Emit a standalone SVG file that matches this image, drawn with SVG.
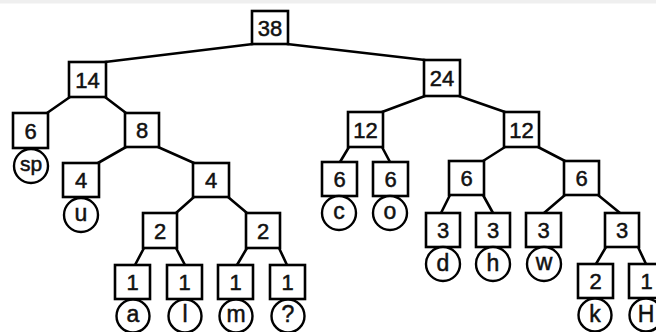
<svg xmlns="http://www.w3.org/2000/svg" width="656" height="332" viewBox="0 0 656 332">
  <style>
    .box { fill: #fff; stroke: #000; stroke-width: 2.6; }
    .leaf { fill: #fff; stroke: #000; stroke-width: 2.4; }
    .edge { stroke: #000; stroke-width: 2.6; fill: none; stroke-linecap: round; }
    .w { font-family: "Liberation Sans", Arial, sans-serif; font-size: 22px; fill: #111; stroke: #111; stroke-width: 0.5; text-anchor: middle; dominant-baseline: central; }
    .c { font-family: "Liberation Sans", Arial, sans-serif; font-size: 23px; fill: #111; stroke: #111; stroke-width: 0.5; text-anchor: middle; dominant-baseline: central; }
  </style>
  <rect x="0" y="0" width="656" height="332" fill="#fff"/>
  <rect x="0" y="0" width="656" height="3.5" fill="#efefef"/>

  <!-- connectors -->
  <g id="edges" class="edge">
    <path d="M253,44 L105,62"/>
    <path d="M287,44 L425,60"/>
    <path d="M70,97 L47,113"/>
    <path d="M105,97 L126,113"/>
    <path d="M126,147 L98,163"/>
    <path d="M158,147 L194,163"/>
    <path d="M194,197 L176,213"/>
    <path d="M228,197 L247,213"/>
    <path d="M144,248 L135,265"/>
    <path d="M176,248 L185,265"/>
    <path d="M247,248 L237,265"/>
    <path d="M279,248 L287,265"/>
    <path d="M425,96 L382,112"/>
    <path d="M459,96 L505,112"/>
    <path d="M349,147 L340,162"/>
    <path d="M382,147 L390,162"/>
    <path d="M505,147 L483,161"/>
    <path d="M538,147 L565,161"/>
    <path d="M450,195 L441,213"/>
    <path d="M483,195 L493,213"/>
    <path d="M565,195 L544,213"/>
    <path d="M598,195 L620,213"/>
    <path d="M606,247 L596,264"/>
    <path d="M638,247 L646,264"/>
  </g>

  <!-- internal nodes -->
  <g id="n38"><rect class="box" x="252" y="11" width="36" height="33"/><text class="w" x="270" y="28">38</text></g>
  <g id="n14"><rect class="box" x="69" y="62" width="37" height="35"/><text class="w" x="87.5" y="80">14</text></g>
  <g id="n24"><rect class="box" x="424" y="60" width="36" height="36"/><text class="w" x="442" y="78.5">24</text></g>
  <g id="n8"><rect class="box" x="125" y="113" width="34" height="34"/><text class="w" x="142" y="130.5">8</text></g>
  <g id="n4"><rect class="box" x="193" y="163" width="36" height="34"/><text class="w" x="211" y="180.5">4</text></g>
  <g id="n2a"><rect class="box" x="143" y="213" width="34" height="35"/><text class="w" x="160" y="231">2</text></g>
  <g id="n2b"><rect class="box" x="246" y="213" width="34" height="35"/><text class="w" x="263" y="231">2</text></g>
  <g id="n12a"><rect class="box" x="348" y="112" width="35" height="35"/><text class="w" x="365.5" y="130">12</text></g>
  <g id="n12b"><rect class="box" x="504" y="112" width="35" height="35"/><text class="w" x="521.5" y="130">12</text></g>
  <g id="n6dh"><rect class="box" x="449" y="161" width="35" height="34"/><text class="w" x="466.5" y="178.5">6</text></g>
  <g id="n6wk"><rect class="box" x="564" y="161" width="35" height="34"/><text class="w" x="581.5" y="178.5">6</text></g>
  <g id="n3kh"><rect class="box" x="605" y="213" width="34" height="34"/><text class="w" x="622" y="230.5">3</text></g>

  <!-- leaves: weight box with symbol circle -->
  <g id="leaf-sp"><rect class="box" x="13" y="113" width="35" height="35"/><text class="w" x="30.5" y="131">6</text><circle class="leaf" cx="31" cy="166" r="17"/><text class="c" x="31" y="163" style="font-size:21px">sp</text></g>
  <g id="leaf-u"><rect class="box" x="63" y="163" width="36" height="34"/><text class="w" x="81" y="180.5">4</text><circle class="leaf" cx="81" cy="215" r="17"/><text class="c" x="81" y="213">u</text></g>
  <g id="leaf-a"><rect class="box" x="115" y="265" width="35" height="34"/><text class="w" x="132.5" y="282.5">1</text><circle class="leaf" cx="133" cy="316" r="16.5"/><text class="c" x="133" y="314">a</text></g>
  <g id="leaf-l"><rect class="box" x="167" y="265" width="35" height="34"/><text class="w" x="184.5" y="282.5">1</text><circle class="leaf" cx="185" cy="316" r="16.5"/><text class="c" x="185" y="314">l</text></g>
  <g id="leaf-m"><rect class="box" x="218" y="265" width="35" height="34"/><text class="w" x="235.5" y="282.5">1</text><circle class="leaf" cx="236" cy="316" r="16.5"/><text class="c" x="236" y="314">m</text></g>
  <g id="leaf-q"><rect class="box" x="270" y="265" width="35" height="34"/><text class="w" x="287.5" y="282.5">1</text><circle class="leaf" cx="288" cy="316" r="16.5"/><text class="c" x="288" y="314">?</text></g>
  <g id="leaf-c"><rect class="box" x="322" y="162" width="35" height="34"/><text class="w" x="339.5" y="179.5">6</text><circle class="leaf" cx="339" cy="213" r="17"/><text class="c" x="339" y="211">c</text></g>
  <g id="leaf-o"><rect class="box" x="373" y="162" width="35" height="34"/><text class="w" x="390.5" y="179.5">6</text><circle class="leaf" cx="390" cy="213" r="17"/><text class="c" x="390" y="211">o</text></g>
  <g id="leaf-d"><rect class="box" x="426" y="213" width="34" height="34"/><text class="w" x="443" y="230.5">3</text><circle class="leaf" cx="443" cy="264" r="17"/><text class="c" x="443" y="263">d</text></g>
  <g id="leaf-h"><rect class="box" x="476" y="213" width="34" height="34"/><text class="w" x="493" y="230.5">3</text><circle class="leaf" cx="493" cy="264" r="17"/><text class="c" x="493" y="263">h</text></g>
  <g id="leaf-w"><rect class="box" x="526" y="213" width="35" height="34"/><text class="w" x="543.5" y="230.5">3</text><circle class="leaf" cx="544" cy="264" r="17"/><text class="c" x="544" y="262">w</text></g>
  <g id="leaf-k"><rect class="box" x="578" y="264" width="35" height="34"/><text class="w" x="595.5" y="281.5">2</text><circle class="leaf" cx="595" cy="315" r="16.5"/><text class="c" x="595" y="314">k</text></g>
  <g id="leaf-H"><rect class="box" x="629" y="264" width="35" height="34"/><text class="w" x="646.5" y="281.5">1</text><circle class="leaf" cx="646" cy="315" r="16.5"/><text class="c" x="646" y="314">H</text></g>
</svg>
